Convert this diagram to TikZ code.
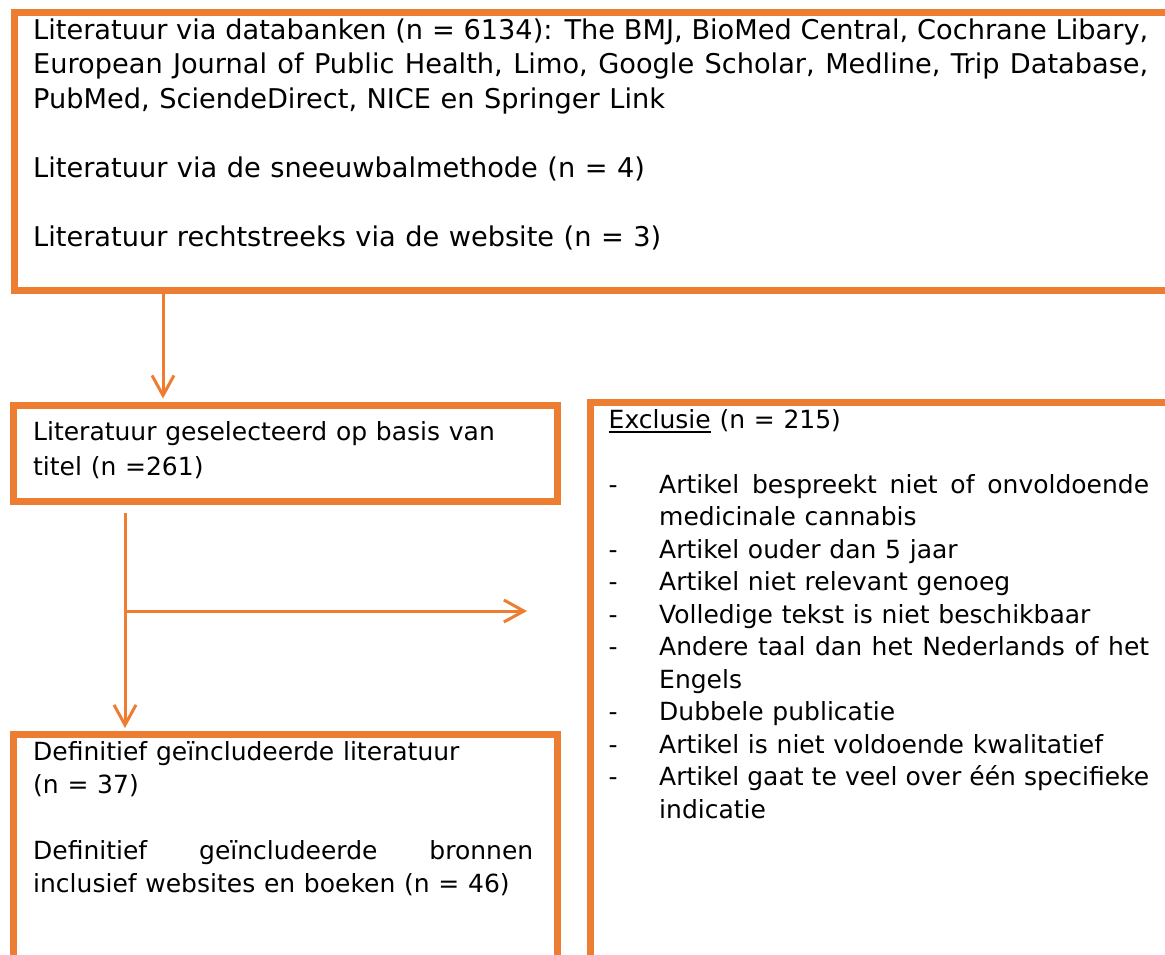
\documentclass[tikz,border=0pt]{standalone}
\usepackage{fontspec}
\setmainfont{DejaVu Sans}[WordSpace=1.1]
\usetikzlibrary{arrows.meta}
\definecolor{oranje}{HTML}{ED7D31}
\newcommand{\onderlijn}[1]{\leavevmode\setbox0\hbox{#1}\rlap{\rule[-4.5pt]{\wd0}{1.8pt}}\box0\relax}

\begin{document}
\begin{tikzpicture}[x=1pt, y=-1pt,
  kader/.style={draw=oranje, line width=7pt, anchor=north west,
                inner sep=0pt, minimum width=#1},
  tekst/.style={anchor=base west, inner sep=0pt, align=justify,
                text width=#1, font=\fontsize{25}{34.5}\selectfont},
  arr/.style={-{Straight Barb[length=20pt,width=22pt]}, draw=oranje,
              line width=3pt}
]
  \useasboundingbox (0,0) rectangle (1165,954);
  \clip (0,0) rectangle (1165,954);

  \node[kader=1169pt, minimum height=278.5pt] (bron)  at (11,8.5)   {};
  \node[kader=544pt,  minimum height=96pt]    (titel) at (10,401.5) {};
  \node[kader=544pt,  minimum height=300pt]   (incl)  at (10,731)   {};
  \node[kader=600pt,  minimum height=600pt]   (excl)  at (587,398.5) {};

  \node[tekst=1115pt, font=\fontsize{27.2}{34.5}\selectfont] (brontekst) at (33,39)
        {Literatuur via databanken (n = 6134): The BMJ, BioMed Central, Cochrane Libary,\linebreak
         European Journal of Public Health, Limo, Google Scholar, Medline, Trip Database,\linebreak
         PubMed, SciendeDirect, NICE en Springer Link\\[34.5pt]
         Literatuur via de sneeuwbalmethode (n = 4)\\[34.5pt]
         Literatuur rechtstreeks via de website (n = 3)};

  \node[tekst=500pt, font=\fontsize{25}{35}\selectfont] (titeltekst) at (33,440)
        {Literatuur geselecteerd op basis van\\ titel (n =261)};

  \node[tekst=500pt, font=\fontsize{25}{33}\selectfont] (incltekst) at (33,760)
        {Definitief geïncludeerde literatuur\\ (n = 37)\\[33pt]
         Definitief geïncludeerde bronnen\linebreak
         inclusief websites en boeken (n = 46)};

  \node[tekst=541pt, font=\fontsize{25}{32.5}\selectfont] (excltekst) at (608.5,428)
        {\onderlijn{Exclusie} (n = 215)\\[32.5pt]
         \begin{tabular}[t]{@{}p{50.5pt}@{}p{490pt}@{}}
         - & Artikel bespreekt niet of onvoldoende\linebreak medicinale cannabis\\
         - & Artikel ouder dan 5 jaar\\
         - & Artikel niet relevant genoeg\\
         - & Volledige tekst is niet beschikbaar\\
         - & Andere taal dan het Nederlands of het\linebreak Engels\\
         - & Dubbele publicatie\\
         - & Artikel is niet voldoende kwalitatief\\
         - & Artikel gaat te veel over één specifieke\linebreak indicatie
         \end{tabular}};

  \coordinate (splitsing) at (125,611);

  \draw[arr] ([xshift=153pt]titel.north west |- bron.south)
          -- ([xshift=153pt,yshift=3pt]titel.north west);
  \draw[arr] ([xshift=115pt,yshift=-8.5pt]titel.south west)
          -- ([xshift=115pt,yshift=3pt]incl.north west);
  \draw[arr] (splitsing) -- ([xshift=-60pt]splitsing -| excl.west);
\end{tikzpicture}
\end{document}
